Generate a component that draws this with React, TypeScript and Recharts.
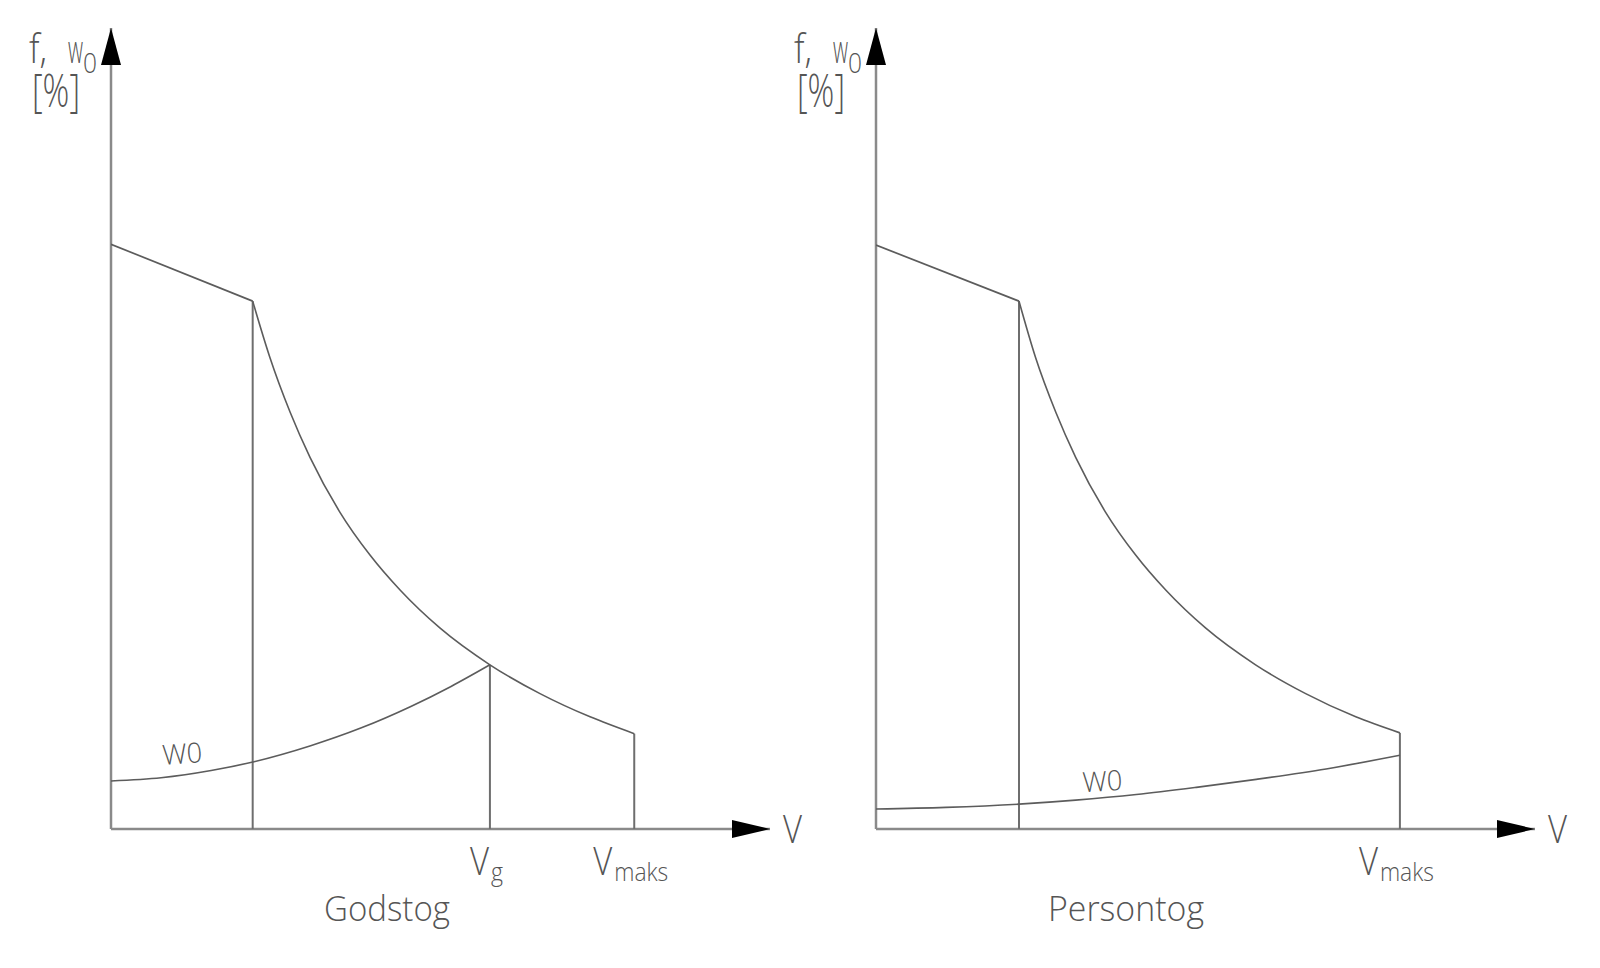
import React from "react";
import {
  LineChart,
  Line,
  XAxis,
  YAxis,
  ReferenceLine,
  ReferenceDot,
} from "recharts";

const INK = "#5c5c5c";
const AXIS = "#8a8a8a";
const TEXT = "#555555";
const FONT = "'Open Sans', 'DejaVu Sans', sans-serif";

// Godstog (goods train), V and f/w0 in chart units (0..100 on both axes)
const GODS_F_V = [0, 21.5];
const GODS_F = [73.0, 65.9];
const GODS_CURVE_V = [21.5, 24.1, 27.2, 30.2, 34.7, 39.3, 43.9, 49.9, 57.5, 65.1, 72.7, 79.4];
const GODS_CURVE_F = [65.9, 58.9, 52.0, 46.4, 39.6, 34.2, 29.8, 25.1, 20.5, 16.9, 14.0, 11.9];
const GODS_W0_V = [0, 7.6, 15.2, 21.7, 30.3, 37.9, 45.5, 51.6, 57.5];
const GODS_W0 = [6.0, 6.4, 7.3, 8.4, 10.4, 12.6, 15.3, 17.8, 20.5];
const GODS_VERTICALS = [21.5, 57.5, 79.4];
const GODS_TICKS = [57.5, 79.4];
const GODS_TICK_SUBS = ["g", "maks"];

// Persontog (passenger train)
const PERS_F_V = [0, 21.7];
const PERS_F = [72.9, 65.9];
const PERS_CURVE_V = [21.7, 24.2, 27.3, 30.3, 34.8, 39.4, 44.0, 50.0, 57.6, 65.2, 72.8, 79.5];
const PERS_CURVE_F = [65.9, 58.9, 52.0, 46.4, 39.6, 34.2, 29.8, 25.1, 20.5, 16.9, 14.0, 12.0];
const PERS_W0_V = [0, 10.6, 21.7, 30.3, 39.5, 48.6, 57.7, 68.3, 79.5];
const PERS_W0 = [2.5, 2.7, 3.1, 3.6, 4.3, 5.2, 6.2, 7.5, 9.2];
const PERS_VERTICALS = [21.7, 79.5];
const PERS_TICKS = [79.5];
const PERS_TICK_SUBS = ["maks"];

const toPoints = (vs: number[], ys: number[]) => vs.map((v, i) => ({ v, y: ys[i] }));

const textStyle = {
  fontFamily: FONT,
  fontWeight: 300,
  fill: TEXT,
} as const;

// thin, narrow lettering like the CAD font in the drawing
function CadText({ x, y, size, width, rotate = 0, children }: any) {
  return (
    <text
      x={x}
      y={y}
      fontSize={size}
      {...textStyle}
      textLength={width}
      lengthAdjust="spacingAndGlyphs"
      transform={rotate ? `rotate(${rotate} ${x} ${y})` : undefined}
    >
      {children}
    </text>
  );
}

const UpArrow = ({ cx, cy }: any) => (
  <g>
    <polygon points={`${cx},${cy} ${cx - 10},${cy + 37} ${cx + 10},${cy + 37}`} fill="#000" />
    <text {...textStyle}>
      <tspan x={cx - 82} y={cy + 35} fontSize={40} textLength={18} lengthAdjust="spacingAndGlyphs">
        f,
      </tspan>
      <tspan x={cx - 43} y={cy + 35} fontSize={39} textLength={15} lengthAdjust="spacingAndGlyphs">
        w
      </tspan>
      <tspan x={cx - 28} y={cy + 45} fontSize={28} textLength={14} lengthAdjust="spacingAndGlyphs">
        0
      </tspan>
      <tspan x={cx - 79} y={cy + 79} fontSize={46} textLength={48} lengthAdjust="spacingAndGlyphs">
        [%]
      </tspan>
    </text>
  </g>
);

const RightArrow = ({ cx, cy }: any) => (
  <g>
    <polygon points={`${cx},${cy} ${cx - 38},${cy - 9} ${cx - 38},${cy + 9}`} fill="#000" />
    <CadText x={cx + 13} y={cy + 14} size={39} width={19}>V</CadText>
  </g>
);

const W0Label = ({ cx, cy, rotate }: any) => (
  <CadText x={cx} y={cy} size={28} width={40} rotate={rotate}>W0</CadText>
);

function VTick({ x, y, payload, ticks, subs }: any) {
  const sub = subs[ticks.indexOf(payload.value)] || "";
  const subW = sub.length === 1 ? 12 : sub.length * 13.5;
  const start = x - 3.5 - (19 + 2 + subW) / 2;
  return (
    <text {...textStyle}>
      <tspan x={start} y={y + 38} fontSize={38} textLength={19} lengthAdjust="spacingAndGlyphs">
        V
      </tspan>
      <tspan x={start + 21} y={y + 44} fontSize={26} textLength={subW} lengthAdjust="spacingAndGlyphs">
        {sub}
      </tspan>
    </text>
  );
}

function Panel({
  left,
  width,
  fV,
  f,
  curveV,
  curveF,
  w0V,
  w0,
  verticals,
  ticks,
  subs,
  w0At,
  w0Rotate,
}: any) {
  const topAt = (v: number) => {
    const i = curveV.indexOf(v);
    return i >= 0 ? curveF[i] : 0;
  };
  return (
    <div style={{ position: "absolute", left, top: 0 }}>
      <LineChart
        width={width}
        height={968}
        margin={{ top: 28, left: 110, right: width - 770, bottom: 138 }}
      >
        <XAxis
          dataKey="v"
          type="number"
          domain={[0, 100]}
          allowDataOverflow
          height={1}
          ticks={ticks}
          interval={0}
          tickLine={false}
          axisLine={false}
          tick={(p: any) => <VTick {...p} ticks={ticks} subs={subs} />}
        />
        <YAxis
          type="number"
          domain={[0, 100]}
          allowDataOverflow
          width={1}
          tick={false}
          tickLine={false}
          axisLine={false}
        />
        {/* axis shafts */}
        <ReferenceLine
          segment={[
            { x: 0, y: 0 },
            { x: 100, y: 0 },
          ]}
          stroke={AXIS}
          strokeWidth={2.5}
        />
        <ReferenceLine
          segment={[
            { x: 0, y: 0 },
            { x: 0, y: 100 },
          ]}
          stroke={AXIS}
          strokeWidth={2.5}
        />
        {verticals.map((v: number) => (
          <ReferenceLine
            key={v}
            segment={[
              { x: v, y: 0 },
              { x: v, y: topAt(v) },
            ]}
            stroke="#6e6e6e"
            strokeWidth={2}
          />
        ))}
        <Line
          data={toPoints(fV, f)}
          dataKey="y"
          type="linear"
          stroke={INK}
          strokeWidth={1.7}
          dot={false}
          isAnimationActive={false}
        />
        <Line
          data={toPoints(curveV, curveF)}
          dataKey="y"
          type="monotone"
          stroke={INK}
          strokeWidth={1.6}
          dot={false}
          isAnimationActive={false}
        />
        <Line
          data={toPoints(w0V, w0)}
          dataKey="y"
          type="monotone"
          stroke={INK}
          strokeWidth={1.6}
          dot={false}
          isAnimationActive={false}
        />
        <ReferenceDot x={0} y={100} r={0} shape={(p: any) => <UpArrow {...p} />} />
        <ReferenceDot x={100} y={0} r={0} shape={(p: any) => <RightArrow {...p} />} />
        <ReferenceDot
          x={w0At[0]}
          y={w0At[1]}
          r={0}
          shape={(p: any) => <W0Label {...p} rotate={w0Rotate} />}
        />
      </LineChart>
    </div>
  );
}

export default function App() {
  return (
    <div
      style={{
        position: "absolute",
        left: 0,
        top: 0,
        width: 1600,
        height: 968,
        background: "#fff",
        overflow: "hidden",
      }}
    >
      <Panel
        left={0}
        width={820}
        fV={GODS_F_V}
        f={GODS_F}
        curveV={GODS_CURVE_V}
        curveF={GODS_CURVE_F}
        w0V={GODS_W0_V}
        w0={GODS_W0}
        verticals={GODS_VERTICALS}
        ticks={GODS_TICKS}
        subs={GODS_TICK_SUBS}
        w0At={[7.9, 8.0]}
        w0Rotate={-4}
      />
      <Panel
        left={765}
        width={835}
        fV={PERS_F_V}
        f={PERS_F}
        curveV={PERS_CURVE_V}
        curveF={PERS_CURVE_F}
        w0V={PERS_W0_V}
        w0={PERS_W0}
        verticals={PERS_VERTICALS}
        ticks={PERS_TICKS}
        subs={PERS_TICK_SUBS}
        w0At={[31.4, 4.6]}
        w0Rotate={-3}
      />
      <svg
        width={1600}
        height={968}
        style={{ position: "absolute", left: 0, top: 0, pointerEvents: "none" }}
      >
        <CadText x={324} y={921} size={35} width={126}>Godstog</CadText>
        <CadText x={1048} y={921} size={35} width={156}>Persontog</CadText>
      </svg>
    </div>
  );
}
